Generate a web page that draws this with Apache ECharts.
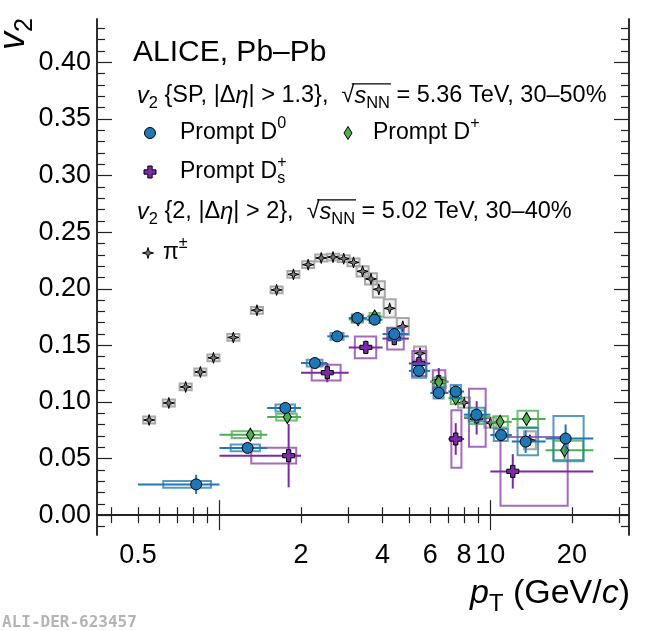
<!DOCTYPE html>
<html>
<head>
<meta charset="utf-8">
<title>v2 prompt D mesons</title>
<script src="https://cdn.jsdelivr.net/npm/echarts@6/dist/echarts.min.js"></script>
</head>
<body style="margin:0;background:#fff">
<div id="main" style="width:650px;height:631px;"></div>
<script>
// prompt D0, v2{SP}, 30-50 %
var d0Pt    = [0.82, 1.27, 1.75, 2.25, 2.72, 3.23, 3.74, 4.42, 5.45, 6.45, 7.45, 8.88, 10.95, 13.5, 18.96];
var d0V2    = [0.0272, 0.0594, 0.0947, 0.1344, 0.158, 0.1742, 0.1727, 0.160, 0.1275, 0.108, 0.1092, 0.0888, 0.0708, 0.0650, 0.0677];
var d0Stat  = [0.0085, 0.003, 0.003, 0.003, 0.003, 0.003, 0.003, 0.004, 0.004, 0.004, 0.004, 0.005, 0.005, 0.010, 0.0125];
var d0Lo    = [0.5, 1, 1.5, 2, 2.5, 3, 3.5, 4, 5, 6, 7, 8, 10, 12, 16];
var d0Hi    = [1, 1.5, 2, 2.5, 3, 3.5, 4, 5, 6, 7, 8, 10, 12, 16, 24];
var d0BoxLo = [0.62, 1.10, 1.61, 2.10, 2.57, 3.08, 3.58, 4.2, 5.15, 6.17, 7.14, 8.33, 10.3, 12.6, 17.1];
var d0BoxHi = [0.93, 1.41, 1.90, 2.40, 2.87, 3.38, 3.90, 4.7, 5.8, 6.72, 7.8, 9.55, 11.6, 15.0, 22.1];
var d0Syst  = [0.003, 0.003, 0.003, 0.003, 0.003, 0.003, 0.003, 0.005, 0.006, 0.005, 0.0057, 0.006, 0.0053, 0.012, 0.020];

// prompt D+
var dpPt    = [1.30, 1.78, 3.25, 3.74, 6.45, 7.45, 8.9, 10.86, 13.6, 18.8];
var dpV2    = [0.0711, 0.0867, 0.173, 0.1755, 0.1177, 0.1032, 0.0865, 0.0825, 0.085, 0.0573];
var dpStat  = [0.003, 0.003, 0.003, 0.003, 0.004, 0.004, 0.005, 0.005, 0.006, 0.008];
var dpLo    = [1, 1.5, 3, 3.5, 6, 7, 8, 10, 12, 16];
var dpHi    = [1.5, 2, 3.5, 4, 7, 8, 10, 12, 16, 24];
var dpBoxLo = [1.11, 1.62, 3.08, 3.58, 6.17, 7.14, 8.33, 10.27, 12.6, 17.1];
var dpBoxHi = [1.42, 1.93, 3.38, 3.9, 6.75, 7.8, 9.55, 11.6, 15.0, 22.0];
var dpSyst  = [0.003, 0.003, 0.003, 0.003, 0.004, 0.005, 0.006, 0.005, 0.0073, 0.0085];

// prompt Ds+
var dsPt    = [1.80, 2.50, 3.47, 4.42, 5.45, 6.45, 7.45, 8.9, 12.1];
var dsV2    = [0.0526, 0.1259, 0.1482, 0.156, 0.134, 0.118, 0.0673, 0.086, 0.0387];
var dsStat  = [0.028, 0.0085, 0.006, 0.006, 0.008, 0.012, 0.014, 0.0147, 0.0152];
var dsLo    = [1, 2, 3, 4, 5, 6, 7, 8, 10];
var dsHi    = [2, 3, 4, 5, 6, 7, 8, 10, 24];
var dsBoxLo = [1.31, 2.19, 3.16, 4.16, 5.15, 6.13, 7.18, 8.34, 10.9];
var dsBoxHi = [1.92, 2.80, 3.79, 4.79, 5.80, 6.82, 7.82, 9.61, 19.3];
var dsSyst  = [0.007, 0.007, 0.0096, 0.0096, 0.011, 0.010, 0.0255, 0.0256, 0.0304];

// charged pions, v2{2}, 30-40 %, 5.02 TeV
var piPt   = [0.55, 0.65, 0.75, 0.85, 0.95, 1.125, 1.375, 1.625, 1.875, 2.125, 2.375, 2.625, 2.875, 3.125, 3.375, 3.625, 3.875, 4.25, 4.75, 5.5, 6.5, 8, 10, 14];
var piV2   = [0.0841, 0.0991, 0.1133, 0.1265, 0.139, 0.157, 0.181, 0.199, 0.2127, 0.2213, 0.2272, 0.228, 0.2266, 0.2233, 0.2154, 0.2087, 0.1995, 0.1827, 0.1668, 0.1430, 0.1168, 0.0994, 0.0817, 0.0662];
var piSyst = [0.003, 0.003, 0.003, 0.003, 0.003, 0.003, 0.003, 0.003, 0.003, 0.003, 0.003, 0.003, 0.003, 0.0035, 0.0045, 0.005, 0.0072, 0.008, 0.0074, 0.006, 0.0045, 0.0045, 0.0045, 0.008];

// axis ticks
var xLabels = [0.5, 2, 4, 6, 8, 10, 20];
var xMinor  = [0.4, 0.5, 0.6, 0.7, 0.8, 0.9, 2, 3, 4, 5, 6, 7, 8, 9, 20, 30];
var xMajor  = [1, 10];
var yMajor  = [0, 0.05, 0.1, 0.15, 0.2, 0.25, 0.3, 0.35, 0.4];
var yMinor  = [];
for (var i = -1; i <= 43; i++) { if (i % 5 !== 0) yMinor.push(i / 100); }

var FONT = '"Liberation Sans", Arial, Helvetica, sans-serif';
var C_D0 = '#1f77b4', C_D0_BOX = 'rgba(31,119,180,0.75)';
var C_DP = '#4caf50', C_DP_BOX = 'rgba(76,175,80,0.8)';
var C_DS = '#7b2aa8', C_DS_BOX = 'rgba(142,68,173,0.8)';
var C_PI = '#777777', C_PI_BOX = '#a8a8a8';

var crossPts = [[3.2,0],[6.8,0],[6.8,3.2],[10,3.2],[10,6.8],[6.8,6.8],[6.8,10],[3.2,10],[3.2,6.8],[0,6.8],[0,3.2],[3.2,3.2]];
var starPts  = [[5,0],[6.1,3.9],[10,5],[6.1,6.1],[5,10],[3.9,6.1],[0,5],[3.9,3.9]];
function toPath(pts) { return 'path://M' + pts.map(function (p) { return p.join(','); }).join('L') + 'Z'; }

function rows(pt, v, st, lo, hi, blo, bhi, sy) {
  return pt.map(function (x, i) { return [x, v[i], lo[i], hi[i], st[i], blo[i], bhi[i], sy[i]]; });
}

function errRender(color, boxColor) {
  return function (params, api) {
    var x = api.value(0), y = api.value(1);
    var p = api.coord([x, y]);
    var lo = api.coord([api.value(2), y]), hi = api.coord([api.value(3), y]);
    var et = api.coord([x, y + api.value(4)]), eb = api.coord([x, y - api.value(4)]);
    var b1 = api.coord([api.value(5), y + api.value(7)]), b2 = api.coord([api.value(6), y - api.value(7)]);
    return { type: 'group', children: [
      { type: 'rect', shape: { x: b1[0], y: b1[1], width: b2[0] - b1[0], height: b2[1] - b1[1] },
        style: { fill: 'none', stroke: boxColor, lineWidth: 2 } },
      { type: 'line', shape: { x1: lo[0], y1: p[1], x2: hi[0], y2: p[1] }, style: { stroke: color, lineWidth: 2 } },
      { type: 'line', shape: { x1: p[0], y1: et[1], x2: p[0], y2: eb[1] }, style: { stroke: color, lineWidth: 2 } }
    ] };
  };
}

function piRender(params, api) {
  var x = api.value(0), y = api.value(1), s = api.value(2);
  var c = api.coord([x, y]);
  var t = api.coord([x, y + s]), b = api.coord([x, y - s]);
  return { type: 'rect', shape: { x: c[0] - 6, y: t[1], width: 12, height: b[1] - t[1] },
    style: { fill: 'rgba(0,0,0,0.06)', stroke: C_PI_BOX, lineWidth: 2 } };
}

// text layout helper with sub/superscripts
var ctx = document.createElement('canvas').getContext('2d');
function fnt(size, it) { return (it ? 'italic ' : '') + size + 'px ' + FONT; }
function seq(x, y, size, parts, out) {
  var cx = x, rootX = 0, stackW = 0;
  parts.forEach(function (p) {
    var o = p[1] || {};
    var s = (o.sub || o.sup) ? size * 0.7 : size;
    var dy = o.sub ? size * 0.3 : (o.sup ? -size * 0.4 : 0);
    var f = fnt(s, o.it);
    ctx.font = f;
    var w = ctx.measureText(p[0]).width;
    out.push({ type: 'text', x: cx, y: y + dy, silent: true,
      style: { text: p[0], font: f, fill: '#000', verticalAlign: 'middle' } });
    if (o.root) rootX = cx + w * 0.8;
    if (o.stack) { stackW = w; return; }
    cx += Math.max(w, stackW); stackW = 0;
    if (o.ovEnd) out.push({ type: 'line', silent: true,
      shape: { x1: rootX, y1: y - size * 0.52, x2: cx + 1, y2: y - size * 0.52 },
      style: { stroke: '#000', lineWidth: 1.2 } });
  });
  return cx - x;
}

var g = [];
seq(133, 53, 30, [['ALICE, Pb\u2013Pb']], g);
seq(137, 96, 23.5, [['v', { it: 1 }], ['2', { sub: 1 }], [' {SP, |\u0394'], ['\u03b7', { it: 1 }], ['| > 1.3},  '],
  ['\u221a', { root: 1 }], ['s', { it: 1 }], ['NN', { sub: 1, ovEnd: 1 }], [' = 5.36 TeV, 30\u201350%']], g);
seq(137, 212, 23.5, [['v', { it: 1 }], ['2', { sub: 1 }], [' {2, |\u0394'], ['\u03b7', { it: 1 }], ['| > 2},  '],
  ['\u221a', { root: 1 }], ['s', { it: 1 }], ['NN', { sub: 1, ovEnd: 1 }], [' = 5.02 TeV, 30\u201340%']], g);
seq(180, 133, 23, [['Prompt D'], ['0', { sup: 1 }]], g);
seq(373, 133, 23, [['Prompt D'], ['+', { sup: 1 }]], g);
seq(180, 172, 23, [['Prompt D'], ['s', { sub: 1, stack: 1 }], ['+', { sup: 1 }]], g);
seq(163, 253, 23, [['\u03c0'], ['\u00b1', { sup: 1 }]], g);

// legend symbols
function poly(pts, cx, cy, w, h, fill) {
  return { type: 'polygon', silent: true, z: 10,
    shape: { points: pts.map(function (p) { return [cx + (p[0] - 5) * w / 10, cy + (p[1] - 5) * h / 10]; }) },
    style: { fill: fill, stroke: '#000', lineWidth: 1 } };
}
g.push({ type: 'circle', silent: true, z: 10, shape: { cx: 150, cy: 133, r: 5.5 }, style: { fill: C_D0, stroke: '#000', lineWidth: 1 } });
g.push(poly([[5,0],[10,5],[5,10],[0,5]], 348, 133, 8, 13, C_DP));
g.push(poly(crossPts, 150, 172, 12, 12, C_DS));
g.push(poly(starPts, 148, 253, 11, 11, C_PI));

// axis titles
var yt = [];
seq(0, 0, 36, [['v', { it: 1 }], ['2', { sub: 1 }]], yt);
g.push({ type: 'group', x: 14, y: 50, rotation: Math.PI / 2, children: yt });
var xt = [];
var xw = seq(0, 0, 34, [['p', { it: 1 }], ['T', { sub: 1 }], [' (GeV/'], ['c', { it: 1 }], [')']], xt);
g.push({ type: 'group', x: 630 - xw, y: 594, children: xt });
g.push({ type: 'text', x: 2, y: 623, silent: true,
  style: { text: 'ALI-DER-623457', font: 'bold 16px "DejaVu Sans Mono", monospace', fill: '#b4b4b4', verticalAlign: 'middle' } });

var LINE = { show: true, lineStyle: { color: '#222', width: 1.5 } };
function xAx(pos, ticks, len, labels) {
  return { type: 'log', logBase: 10, min: 0.353, max: 32.5, position: pos,
    axisLine: LINE, splitLine: { show: false },
    axisTick: { show: true, inside: true, length: len, customValues: ticks, lineStyle: { color: '#222', width: 1.2 } },
    axisLabel: labels ? { show: true, customValues: xLabels, margin: 7, fontSize: 27, fontFamily: FONT, color: '#000',
      formatter: function (v) { return String(Math.round(v * 10) / 10); } } : { show: false } };
}
function yAx(pos, ticks, len, labels) {
  return { type: 'value', min: -0.0175, max: 0.4383, position: pos,
    axisLine: LINE, splitLine: { show: false },
    axisTick: { show: true, inside: true, length: len, customValues: ticks, lineStyle: { color: '#222', width: 1.2 } },
    axisLabel: labels ? { show: true, customValues: yMajor, margin: 6, fontSize: 27, fontFamily: FONT, color: '#000',
      padding: [4, 0, 0, 0],
      formatter: function (v) { return v.toFixed(2); } } : { show: false } };
}

var option = {
  animation: false,
  backgroundColor: '#fff',
  grid: { left: 97, right: 21, top: 19, bottom: 96, containLabel: false, outerBoundsMode: 'none' },
  xAxis: [xAx('bottom', xMinor, 8, true), xAx('bottom', xMajor, 15), xAx('top', xMinor, 8), xAx('top', xMajor, 15)],
  yAxis: [yAx('left', yMajor, 15, true), yAx('left', yMinor, 8), yAx('right', yMajor, 15), yAx('right', yMinor, 8)],
  graphic: g,
  series: [
    { type: 'custom', name: 'pi syst', z: 2, renderItem: piRender, encode: { x: 0, y: 1 },
      data: piPt.map(function (x, i) { return [x, piV2[i], piSyst[i]]; }) },
    { type: 'scatter', name: '\u03c0\u00b1', z: 3, symbol: toPath(starPts), symbolSize: 11,
      itemStyle: { color: C_PI, borderColor: '#000', borderWidth: 1, opacity: 1 },
      data: piPt.map(function (x, i) { return [x, piV2[i]]; }) },
    { type: 'custom', name: 'Ds err', z: 4, renderItem: errRender(C_DS, C_DS_BOX), encode: { x: 0, y: 1 },
      data: rows(dsPt, dsV2, dsStat, dsLo, dsHi, dsBoxLo, dsBoxHi, dsSyst) },
    { type: 'scatter', name: 'Prompt Ds+', z: 5, symbol: toPath(crossPts), symbolSize: 12,
      itemStyle: { color: C_DS, borderColor: '#000', borderWidth: 1, opacity: 1 },
      data: dsPt.map(function (x, i) { return [x, dsV2[i]]; }) },
    { type: 'custom', name: 'D+ err', z: 6, renderItem: errRender(C_DP, C_DP_BOX), encode: { x: 0, y: 1 },
      data: rows(dpPt, dpV2, dpStat, dpLo, dpHi, dpBoxLo, dpBoxHi, dpSyst) },
    { type: 'scatter', name: 'Prompt D+', z: 7, symbol: 'diamond', symbolSize: [8, 13],
      itemStyle: { color: C_DP, borderColor: '#000', borderWidth: 1, opacity: 1 },
      data: dpPt.map(function (x, i) { return [x, dpV2[i]]; }) },
    { type: 'custom', name: 'D0 err', z: 8, renderItem: errRender(C_D0, C_D0_BOX), encode: { x: 0, y: 1 },
      data: rows(d0Pt, d0V2, d0Stat, d0Lo, d0Hi, d0BoxLo, d0BoxHi, d0Syst) },
    { type: 'scatter', name: 'Prompt D0', z: 9, symbol: 'circle', symbolSize: 11,
      itemStyle: { color: C_D0, borderColor: '#000', borderWidth: 1, opacity: 1 },
      data: d0Pt.map(function (x, i) { return [x, d0V2[i]]; }) }
  ]
};

var chart = echarts.init(document.getElementById('main'));
chart.setOption(option);
</script>
</body>
</html>
